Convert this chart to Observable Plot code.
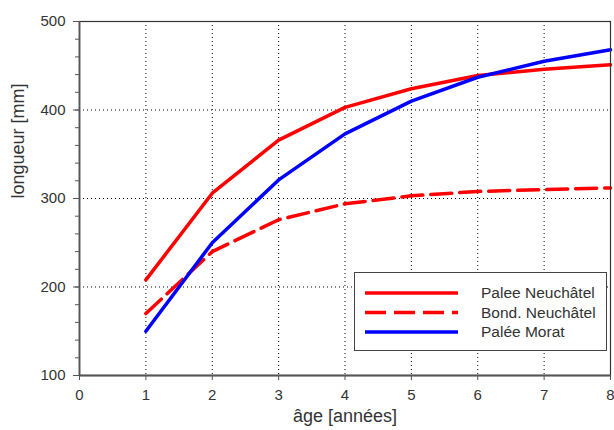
<!DOCTYPE html>
<html>
<head>
<meta charset="utf-8">
<script src="https://cdn.jsdelivr.net/npm/d3@7"></script>
<script src="https://cdn.jsdelivr.net/npm/@observablehq/plot@0.6"></script>
<style>
  body { margin: 0; background: #fff; }
  #chart { position: relative; width: 614px; height: 430px; }
</style>
</head>
<body>
<div id="chart"></div>
<script>
const ages = [1, 2, 3, 4, 5, 6, 7, 8];
const paleeNeuchatel = [208, 306, 366, 403, 424, 439, 446, 451];
const bondNeuchatel = [170, 240, 276, 294, 303, 308, 310, 312];
const paleeMorat = [150, 250, 321, 373, 410, 437, 455, 468];
const seriesNames = ["Palee Neuchâtel", "Bond. Neuchâtel", "Palée Morat"];
const seriesColors = ["#ff0000", "#ff0000", "#0000ff"];
const seriesDash = [null, "21,8", null];
const xTicks = [0, 1, 2, 3, 4, 5, 6, 7, 8];
const yTicks = [100, 200, 300, 400, 500];
const yMinorTicks = d3.range(100, 501, 20);

const seriesValues = [paleeNeuchatel, bondNeuchatel, paleeMorat];
const data = seriesValues.flatMap((vals, i) =>
  vals.map((v, j) => ({ series: seriesNames[i], age: ages[j], len: v })));

const lineMarks = seriesNames.map((name, i) =>
  Plot.line(data.filter(d => d.series === name), {
    x: "age", y: "len", stroke: seriesColors[i], strokeWidth: 3.5,
    strokeDasharray: seriesDash[i] ?? undefined, strokeLinejoin: "round"
  }));

const plot = Plot.plot({
  width: 614, height: 430,
  marginLeft: 79, marginRight: 4, marginTop: 21, marginBottom: 55,
  style: { fontSize: "15px", color: "#333", background: "#fff", fontFamily: "Arial, 'Liberation Sans', sans-serif" },
  x: { domain: [0, 8] },
  y: { domain: [100, 500] },
  marks: [
    Plot.gridX(xTicks.filter(t => t > 0 && t < 8), { stroke: "#000", strokeOpacity: 1, strokeDasharray: "1,3" }),
    Plot.gridY(yTicks.filter(t => t > 100 && t < 500), { stroke: "#000", strokeOpacity: 1, strokeDasharray: "1,3" }),
    ...lineMarks,
    Plot.frame({ stroke: "#333", strokeWidth: 1.2 }),
    Plot.axisY(yMinorTicks, { tickSize: 4, tickFormat: () => "", stroke: "#555", label: null }),
    Plot.axisY(yTicks, { tickSize: 6, tickPadding: 8, stroke: "#555", fill: "#333", label: null }),
    Plot.axisX(xTicks, { tickSize: 5, tickPadding: 9, stroke: "#555", fill: "#333", label: null }),
    Plot.ruleX([0], { stroke: "#555", strokeWidth: 1.8 }),
    Plot.ruleY([100], { stroke: "#555", strokeWidth: 1.8 }),
    Plot.text(["âge [années]"], { frameAnchor: "bottom", dy: 46, fontSize: 18, fill: "#333" }),
    Plot.text(["longueur [mm]"], { frameAnchor: "left", dx: -61, rotate: -90, fontSize: 18, fill: "#333" })
  ]
});
document.getElementById("chart").appendChild(plot);

// Legend
const svg = d3.select(plot);
const lg = svg.append("g").attr("text-anchor", "start");
lg.append("rect").attr("x", 354.5).attr("y", 272.5).attr("width", 252).attr("height", 78)
  .attr("fill", "#fff").attr("stroke", "#444").attr("stroke-width", 1);
seriesNames.forEach((name, i) => {
  const yy = 293 + i * 19.5;
  lg.append("line").attr("x1", 365).attr("x2", 458).attr("y1", yy).attr("y2", yy)
    .attr("stroke", seriesColors[i]).attr("stroke-width", 3.5)
    .attr("stroke-dasharray", seriesDash[i]);
  lg.append("text").attr("x", 481).attr("y", yy).attr("dy", "0.35em")
    .attr("text-anchor", "start")
    .attr("font-size", 15.5).attr("fill", "#333").text(name);
});
</script>
</body>
</html>
